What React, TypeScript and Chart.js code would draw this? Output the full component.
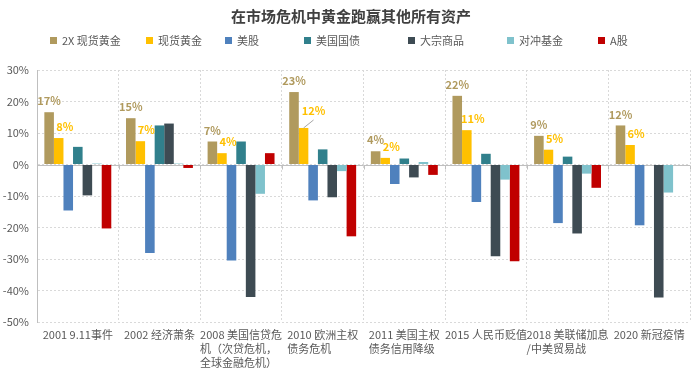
import { useEffect, useRef } from 'react';
import { Chart, registerables } from 'chart.js';

Chart.register(...registerables);

const title = '在市场危机中黄金跑赢其他所有资产';
const categories: string[][] = [
  ['2001 9.11事件'],
  ['2002 经济萧条'],
  ['2008 美国信贷危', '机（次贷危机，', '全球金融危机）'],
  ['2010 欧洲主权', '债务危机'],
  ['2011 美国主权', '债务信用降级'],
  ['2015 人民币贬值'],
  ['2018 美联储加息', '/中美贸易战'],
  ['2020 新冠疫情'],
];
const seriesNames = ['2X 现货黄金', '现货黄金', '美股', '美国国债', '大宗商品', '对冲基金', 'A股'];
const gold2x = [16.6, 14.7, 7.3, 23.0, 4.2, 21.8, 9.1, 12.4];
const gold = [8.4, 7.4, 3.6, 11.6, 2.1, 10.9, 4.7, 6.2];
const usStocks = [-14.6, -28.1, -30.5, -11.4, -6.2, -11.9, -18.6, -19.3];
const treasuries = [5.6, 12.4, 7.3, 4.8, 1.9, 3.4, 2.5, null];
const commodities = [-9.8, 13.0, -42.1, -10.4, -4.1, -29.1, -21.9, -42.2];
const hedgeFunds = [0.3, 0.3, -9.3, -2.1, 0.8, -4.8, -2.9, -8.9];
const aShares = [-20.3, -1.1, 3.6, -22.8, -3.3, -30.7, -7.4, null];
const yMin = -50;
const yMax = 30;
const yStep = 10;

const seriesValues = [gold2x, gold, usStocks, treasuries, commodities, hedgeFunds, aShares];
const seriesColors = ['#B09A5E', '#FFC000', '#4F81BD', '#31808C', '#3E4B53', '#7FC2CC', '#C00000'];

const FONT = '"Noto Sans CJK SC", "Noto Sans", sans-serif';

const decorPlugin = {
  id: 'decor',
  beforeDatasetsDraw(chart: any) {
    const { ctx, chartArea } = chart;
    const y = chart.scales.y;
    const y0 = y.getPixelForValue(0);
    ctx.save();
    ctx.strokeStyle = '#BFBFBF';
    ctx.lineWidth = 1;
    ctx.beginPath();
    ctx.moveTo(chartArea.left, Math.round(y0) + 0.5);
    ctx.lineTo(chartArea.right, Math.round(y0) + 0.5);
    const n = categories.length;
    for (let i = 0; i <= n; i++) {
      const px = chartArea.left + ((chartArea.right - chartArea.left) * i) / n;
      ctx.moveTo(Math.round(px) + 0.5, Math.round(y0) + 0.5);
      ctx.lineTo(Math.round(px) + 0.5, Math.round(y0) + 4.5);
    }
    ctx.stroke();
    ctx.restore();
  },
  afterDraw(chart: any) {
    const { ctx, chartArea } = chart;
    const xs = chart.scales.x;
    ctx.save();
    // title
    ctx.fillStyle = '#404040';
    ctx.font = `bold 15px ${FONT}`;
    ctx.textAlign = 'center';
    ctx.textBaseline = 'middle';
    ctx.fillText(title, 351, 16);
    // legend
    const legendX = [50, 146, 225, 304, 408, 507, 598];
    ctx.font = `11px ${FONT}`;
    ctx.textAlign = 'left';
    seriesNames.forEach((name, i) => {
      ctx.fillStyle = seriesColors[i];
      ctx.fillRect(legendX[i], 37, 7, 7);
      ctx.fillStyle = '#595959';
      ctx.fillText(name, legendX[i] + 12, 41);
    });
    // x labels
    ctx.font = `11px ${FONT}`;
    ctx.fillStyle = '#595959';
    categories.forEach((lines, i) => {
      const cx = xs.getPixelForValue(i);
      const w = Math.max(...lines.map((l) => ctx.measureText(l).width));
      lines.forEach((l, j) => {
        ctx.fillText(l, cx - w / 2, chartArea.bottom + 13 + j * 14);
      });
    });
    // data labels
    ctx.font = `bold 11px ${FONT}`;
    ctx.textAlign = 'center';
    [0, 1].forEach((di) => {
      const meta = chart.getDatasetMeta(di);
      meta.data.forEach((bar: any, i: number) => {
        const v = seriesValues[di][i] as number;
        const txt = Math.round(v) + '%';
        let dx = di === 0 ? 0 : 6;
        let dy = 11;
        if (di === 1 && i === 3) {
          dx = 10;
          dy = 17;
          ctx.strokeStyle = '#A6A6A6';
          ctx.lineWidth = 1;
          ctx.beginPath();
          ctx.moveTo(bar.x, bar.y);
          ctx.lineTo(bar.x + 10, bar.y - 8);
          ctx.stroke();
        }
        ctx.fillStyle = seriesColors[di];
        ctx.fillText(txt, bar.x + dx, bar.y - dy);
      });
    });
    ctx.restore();
  },
};

export default function App() {
  const ref = useRef<HTMLCanvasElement | null>(null);
  useEffect(() => {
    document.body.style.margin = '0';
    const canvas = ref.current;
    if (!canvas) return;
    const chart = new Chart(canvas, {
      type: 'bar',
      data: {
        labels: categories.map((c) => c.join('')),
        datasets: seriesNames.map((name, i) => ({
          label: name,
          data: seriesValues[i],
          backgroundColor: seriesColors[i],
          borderWidth: 0,
          categoryPercentage: 0.82,
          barPercentage: 1.0,
        })),
      },
      options: {
        responsive: false,
        animation: false,
        layout: { padding: { left: 0, right: 10, top: 70, bottom: 67 } },
        plugins: {
          legend: { display: false },
          title: { display: false },
          tooltip: { enabled: false },
        },
        scales: {
          x: {
            grid: { display: true, color: '#D9D9D9', offset: true, drawTicks: false },
            border: { display: false, dash: [2, 2] },
            ticks: { display: false },
          },
          y: {
            min: yMin,
            max: yMax,
            ticks: {
              stepSize: yStep,
              callback: (v: any) => v + '%',
              color: '#595959',
              font: { size: 11, family: FONT },
              padding: 8,
            },
            grid: { color: '#D9D9D9', drawTicks: false },
            border: { display: true, color: '#BFBFBF', dash: [2, 2] },
            afterFit: (s: any) => {
              s.width = 37;
            },
          },
        },
      },
      plugins: [decorPlugin],
    });
    return () => chart.destroy();
  }, []);
  return (
    <div style={{ width: 700, height: 389, background: '#fff' }}>
      <canvas ref={ref} width={700} height={389} />
    </div>
  );
}
